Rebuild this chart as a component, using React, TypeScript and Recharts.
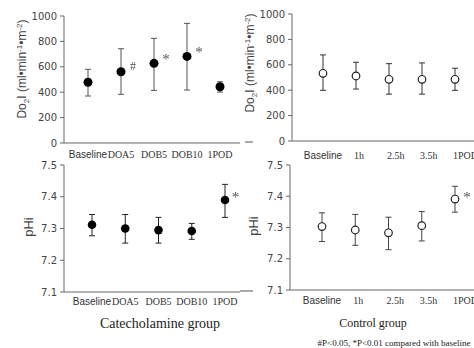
import React from 'react';
import { ComposedChart, Line, XAxis, YAxis, ErrorBar, LabelList } from 'recharts';

const catCategories = ['Baseline', 'DOA5', 'DOB5', 'DOB10', '1POD'];
const ctlCategories = ['Baseline', '1h', '2.5h', '3.5h', '1POD'];

// DO2I, catecholamine group (mean, error bar ends)
const catDo2Mean = [478, 561, 627, 682, 443];
const catDo2Low = [370, 383, 414, 417, 401];
const catDo2High = [580, 742, 824, 942, 482];
const catDo2Marks = ['', '#', '*', '*', ''];

// DO2I, control group
const ctlDo2Mean = [533, 512, 486, 486, 486];
const ctlDo2Low = [399, 409, 369, 369, 399];
const ctlDo2High = [678, 620, 609, 615, 573];
const ctlDo2Marks = ['', '', '', '', ''];

// pHi, catecholamine group
const catPhiMean = [7.312, 7.3, 7.295, 7.292, 7.39];
const catPhiLow = [7.277, 7.254, 7.254, 7.266, 7.335];
const catPhiHigh = [7.344, 7.344, 7.335, 7.316, 7.439];
const catPhiMarks = ['', '', '', '', '*'];

// pHi, control group
const ctlPhiMean = [7.303, 7.292, 7.283, 7.306, 7.391];
const ctlPhiLow = [7.255, 7.243, 7.229, 7.257, 7.349];
const ctlPhiHigh = [7.347, 7.342, 7.333, 7.351, 7.432];
const ctlPhiMarks = ['', '', '', '', '*'];

const do2Ticks = [0, 200, 400, 600, 800, 1000];
const phiTicks = [7.1, 7.2, 7.3, 7.4, 7.5];

const SANS = 'Liberation Sans, Arial, sans-serif';
const SERIF = 'Liberation Serif, Times New Roman, serif';

const buildRows = (cats: string[], mean: number[], low: number[], high: number[], marks: string[]) =>
  cats.map((name, i) => ({
    name,
    mean: mean[i],
    err: [mean[i] - low[i], high[i] - mean[i]],
    mark: marks[i],
  }));

const CategoryTick = (props: any) => {
  const { x, y, payload, offY, startAlign } = props;
  const label = payload.value;
  const sans = label === 'Baseline';
  const anchor = startAlign && !sans ? 'start' : 'middle';
  return (
    <text
      x={anchor === 'start' ? x - 2 : x}
      y={y + offY}
      textAnchor={anchor}
      fontFamily={sans ? SANS : SERIF}
      fontSize={10}
      fill="#333"
    >
      {label}
    </text>
  );
};

const MarkLabel = (props: any) => {
  const { x, y, viewBox, value, offX, offY } = props;
  if (!value) return null;
  const px = x ?? viewBox?.x;
  const py = y ?? viewBox?.y;
  const star = value === '*';
  return (
    <text
      x={px + offX}
      y={py + offY + (star ? 7 : 4)}
      textAnchor="middle"
      fontFamily={SERIF}
      fontSize={star ? 15 : 12}
      fill="#555555"
      stroke="none"
      style={{ filter: 'grayscale(1)' }}
    >
      {value}
    </text>
  );
};

const AxisTitle = ({ posX, posY, kind }: any) => (
  <text
    transform={`rotate(-90, ${posX}, ${posY})`}
    x={posX}
    y={posY + 4}
    textAnchor="middle"
    fontFamily={SANS}
    fontSize={kind === 'do2' ? 12 : 13}
    fill="#444"
  >
    {kind === 'do2' ? (
      <>
        Do<tspan dy={3} fontSize={8}>2</tspan>
        <tspan dy={-3}>I (ml•min</tspan>
        <tspan dy={-4} fontSize={8}>-1</tspan>
        <tspan dy={4}>•m</tspan>
        <tspan dy={-4} fontSize={8}>-2</tspan>
        <tspan dy={4}>)</tspan>
      </>
    ) : (
      'pHi'
    )}
  </text>
);

const Panel = (p: any) => (
  <div style={{ position: 'absolute', left: p.left, top: p.top }}>
    <ComposedChart
      width={p.width}
      height={p.height}
      data={p.data}
      margin={{ top: p.marginTop, right: 0, bottom: 0, left: 0 }}
    >
      <XAxis
        dataKey="name"
        type="category"
        interval={0}
        height={p.xAxisHeight}
        padding={{ left: p.padLeft, right: p.padRight }}
        axisLine={{ stroke: '#666' }}
        tickLine={false}
        tickSize={0}
        tickMargin={0}
        tick={<CategoryTick offY={p.tickDy} startAlign={p.startAlign} />}
      />
      <YAxis
        type="number"
        domain={p.domain}
        ticks={p.ticks}
        width={p.yAxisWidth}
        allowDataOverflow
        axisLine={{ stroke: '#666' }}
        tickLine={{ stroke: '#666' }}
        tickSize={4}
        tickMargin={3}
        tick={{ fontSize: 10, fill: '#444', fontFamily: 'DejaVu Sans, sans-serif' }}
        tickFormatter={p.fmt}
        label={<AxisTitle posX={p.titleX} posY={p.titleY} kind={p.kind} />}
      />
      <Line
        dataKey="mean"
        stroke="none"
        isAnimationActive={false}
        activeDot={false}
        dot={
          p.filled
            ? { r: p.r, fill: '#000', stroke: '#000', strokeWidth: 0 }
            : { r: p.r, fill: '#fff', stroke: '#222', strokeWidth: 1.2 }
        }
      >
        <ErrorBar dataKey="err" width={3} stroke={p.barColor} strokeWidth={1} />
        <LabelList dataKey="mark" content={<MarkLabel offX={p.markDx} offY={p.markDy} />} />
      </Line>
    </ComposedChart>
  </div>
);

export default function App() {
  const fmtInt = (v: number) => String(v);
  const fmtPh = (v: number) => v.toFixed(1);
  return (
    <div
      style={{
        position: 'absolute',
        left: 0,
        top: 0,
        width: 474,
        height: 348,
        background: '#fff',
        overflow: 'hidden',
      }}
    >
      <Panel
        left={0} top={0} width={240} height={160}
        data={buildRows(catCategories, catDo2Mean, catDo2Low, catDo2High, catDo2Marks)}
        marginTop={16} xAxisHeight={17} yAxisWidth={64} padLeft={24} padRight={20}
        domain={[0, 1000]} ticks={do2Ticks} fmt={fmtInt}
        filled r={4.5} barColor="#555" tickDy={14.5}
        kind="do2" titleX={22} titleY={69} markDx={12} markDy={-6}
      />
      <Panel
        left={240} top={0} width={234} height={160}
        data={buildRows(ctlCategories, ctlDo2Mean, ctlDo2Low, ctlDo2High, ctlDo2Marks)}
        marginTop={14} xAxisHeight={19} yAxisWidth={52} padLeft={31} padRight={19}
        domain={[0, 1000]} ticks={do2Ticks} fmt={fmtInt}
        filled={false} r={3.8} barColor="#333" tickDy={17.5} startAlign
        kind="do2" titleX={10} titleY={63} markDx={12} markDy={-5}
      />
      <Panel
        left={0} top={150} width={240} height={160}
        data={buildRows(catCategories, catPhiMean, catPhiLow, catPhiHigh, catPhiMarks)}
        marginTop={15} xAxisHeight={18} yAxisWidth={64} padLeft={28} padRight={15}
        domain={[7.1, 7.5]} ticks={phiTicks} fmt={fmtPh}
        filled r={4.3} barColor="#222" tickDy={12.5}
        kind="phi" titleX={29} titleY={77} markDx={10.5} markDy={-4.5}
      />
      <Panel
        left={240} top={150} width={234} height={160}
        data={buildRows(ctlCategories, ctlPhiMean, ctlPhiLow, ctlPhiHigh, ctlPhiMarks)}
        marginTop={15} xAxisHeight={20} yAxisWidth={50} padLeft={32} padRight={19}
        domain={[7.1, 7.5]} ticks={phiTicks} fmt={fmtPh}
        filled={false} r={3.8} barColor="#444" tickDy={13.5} startAlign
        kind="phi" titleX={14} titleY={76} markDx={12} markDy={-4.5}
      />
      <svg width={474} height={348} style={{ position: 'absolute', left: 0, top: 0, pointerEvents: 'none' }}>
        <line x1={245} y1={142} x2={253} y2={142} stroke="#555" />
        <line x1={240} y1={291} x2={253} y2={291} stroke="#555" />
        <text x={160} y={328} textAnchor="middle" fontFamily={SERIF} fontSize={14} fill="#222">
          Catecholamine group
        </text>
        <text x={373} y={327} textAnchor="middle" fontFamily={SERIF} fontSize={12} fill="#222">
          Control group
        </text>
        <text x={394} y={346} textAnchor="middle" fontFamily={SERIF} fontSize={9} fill="#222">
          #P&lt;0.05, *P&lt;0.01 compared with baseline
        </text>
      </svg>
    </div>
  );
}
